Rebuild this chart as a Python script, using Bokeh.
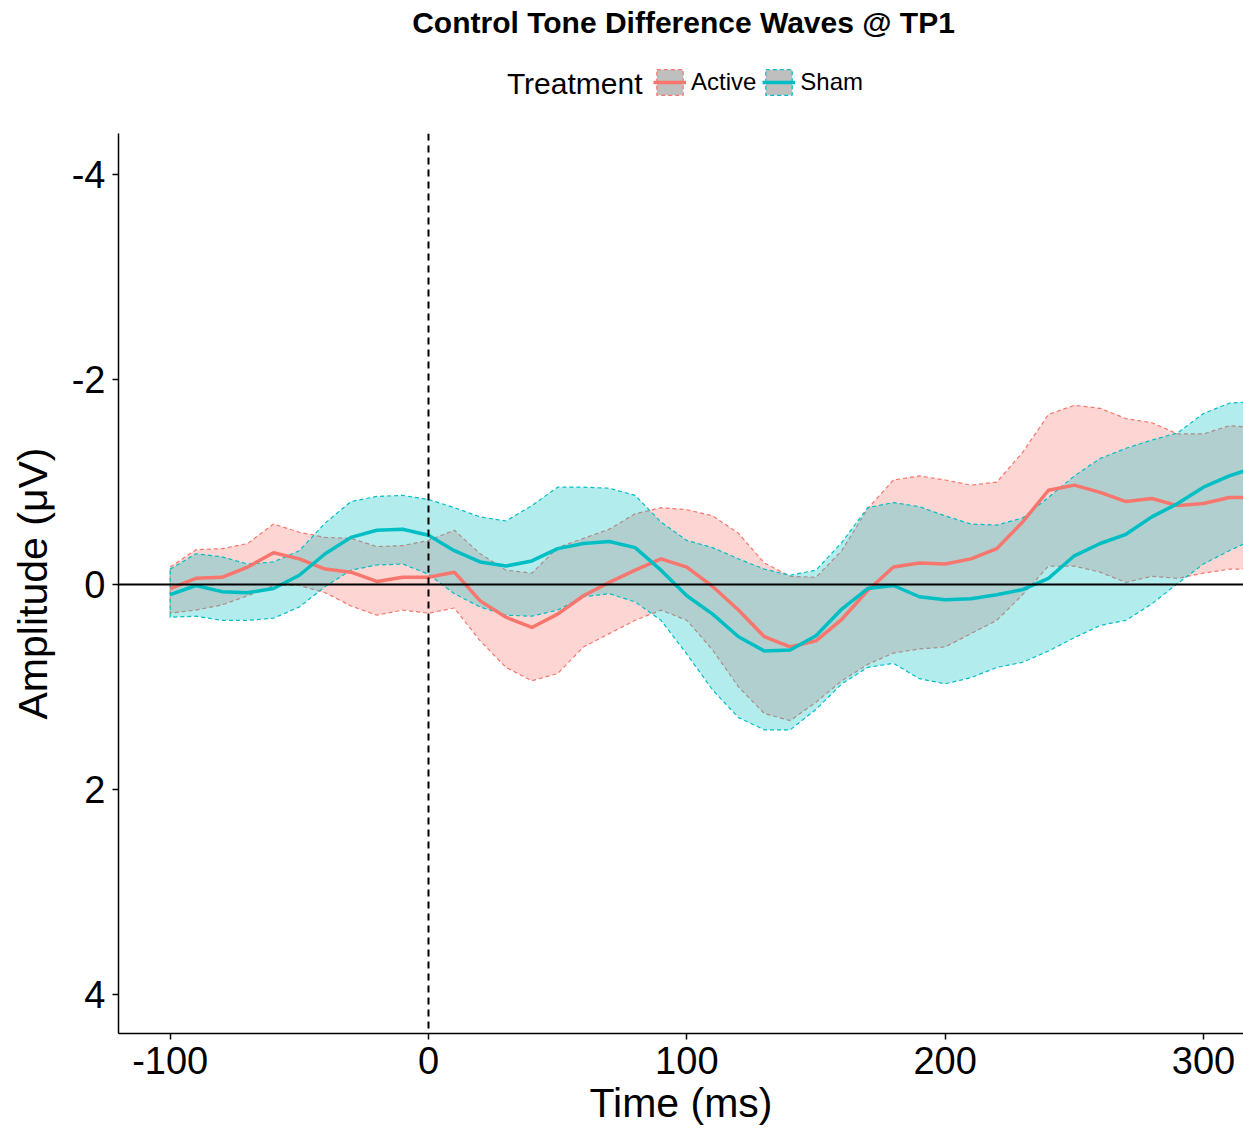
from bokeh.plotting import figure
from bokeh.models import Range1d, FixedTicker, Span, Label, Legend, LegendItem
from bokeh.layouts import column
from bokeh.embed import file_html
from bokeh.resources import INLINE

# ---- data ----
times = [-100, -90, -80, -70, -60, -50, -40, -30, -20, -10, 0, 10, 20, 30, 40, 50,
         60, 70, 80, 90, 100, 110, 120, 130, 140, 150, 160, 170, 180, 190, 200,
         210, 220, 230, 240, 250, 260, 270, 280, 290, 300, 310, 316]

active_mean = [0.04, -0.06, -0.07, -0.17, -0.31, -0.25, -0.15, -0.12, -0.03, -0.07,
               -0.07, -0.12, 0.16, 0.32, 0.42, 0.29, 0.11, -0.02, -0.14, -0.25,
               -0.17, 0.02, 0.25, 0.51, 0.61, 0.55, 0.34, 0.06, -0.17, -0.21,
               -0.20, -0.25, -0.35, -0.61, -0.92, -0.97, -0.90, -0.81, -0.84, -0.77,
               -0.79, -0.85, -0.85]
active_ci_neg = [-0.17, -0.34, -0.35, -0.40, -0.59, -0.51, -0.46, -0.45, -0.37, -0.38,
                 -0.43, -0.53, -0.30, -0.14, -0.11, -0.36, -0.45, -0.54, -0.69, -0.75,
                 -0.73, -0.67, -0.50, -0.21, -0.08, -0.07, -0.33, -0.74, -1.02, -1.06,
                 -1.02, -0.97, -1.00, -1.29, -1.66, -1.75, -1.72, -1.62, -1.58, -1.47,
                 -1.47, -1.55, -1.54]
active_ci_pos = [0.28, 0.25, 0.20, 0.11, 0.01, 0.01, 0.08, 0.21, 0.30, 0.25,
                 0.28, 0.23, 0.55, 0.81, 0.94, 0.87, 0.61, 0.48, 0.35, 0.25,
                 0.35, 0.64, 1.00, 1.26, 1.33, 1.15, 0.94, 0.78, 0.67, 0.63,
                 0.61, 0.48, 0.35, 0.10, -0.18, -0.18, -0.12, -0.02, -0.08, -0.06,
                 -0.11, -0.15, -0.15]

sham_mean = [0.10, 0.01, 0.07, 0.08, 0.04, -0.09, -0.30, -0.46, -0.53, -0.54,
             -0.48, -0.33, -0.22, -0.18, -0.23, -0.35, -0.40, -0.42, -0.36, -0.14,
             0.11, 0.29, 0.51, 0.65, 0.64, 0.50, 0.24, 0.04, 0.01, 0.12,
             0.15, 0.14, 0.10, 0.05, -0.06, -0.28, -0.40, -0.49, -0.66, -0.79,
             -0.95, -1.06, -1.11]
sham_ci_neg = [-0.15, -0.30, -0.27, -0.20, -0.22, -0.33, -0.60, -0.81, -0.86, -0.87,
               -0.83, -0.75, -0.66, -0.62, -0.77, -0.95, -0.95, -0.94, -0.87, -0.61,
               -0.43, -0.36, -0.25, -0.15, -0.09, -0.14, -0.41, -0.75, -0.80, -0.76,
               -0.67, -0.59, -0.58, -0.65, -0.85, -1.06, -1.23, -1.33, -1.41, -1.48,
               -1.67, -1.77, -1.78]
sham_ci_pos = [0.32, 0.31, 0.35, 0.35, 0.33, 0.22, 0.02, -0.14, -0.19, -0.20,
               -0.10, 0.09, 0.22, 0.30, 0.31, 0.25, 0.12, 0.09, 0.17, 0.35,
               0.68, 1.03, 1.30, 1.42, 1.42, 1.22, 0.97, 0.81, 0.77, 0.92,
               0.97, 0.91, 0.81, 0.76, 0.65, 0.52, 0.40, 0.35, 0.19, -0.01,
               -0.20, -0.33, -0.40]

groups = ["Active", "Sham"]
x_ticks = [-100, 0, 100, 200, 300]
y_ticks = [-4, -2, 0, 2, 4]

title_text = "Control Tone Difference Waves @ TP1"
legend_title = "Treatment"

RED = "#F8766D"
CYAN = "#00BFC4"
FONT = "Liberation Sans"

series = [
    (RED, active_mean, active_ci_neg, active_ci_pos),
    (CYAN, sham_mean, sham_ci_neg, sham_ci_pos),
]


def ribbon_xy(neg, pos):
    return list(times) + list(reversed(times)), list(neg) + list(reversed(pos))


# ---------- header (title + legend) ----------
# its ranges sit far away from the data, so the proxy renderers only feed the legend
head = figure(width=1243, height=133, output_backend="svg", toolbar_location=None,
              x_range=Range1d(1000, 1001), y_range=Range1d(1000, 1001),
              x_axis_type=None, y_axis_type=None, min_border=0)
head.outline_line_color = None
head.grid.visible = False

items = []
for name, (color, mean, neg, pos) in zip(groups, series):
    xs, ys = ribbon_xy(neg, pos)
    box = head.patch(x=xs, y=ys, fill_color="#bfbfbf", fill_alpha=1.0,
                     line_color=color, line_dash="4 3", line_width=1.2)
    ln = head.line(x=times, y=mean, line_color=color, line_width=3.5)
    items.append(LegendItem(label=name, renderers=[box, ln]))

legend = Legend(items=items, orientation="horizontal", location=(535, 35),
                glyph_width=33, glyph_height=32, label_text_font_size="24px",
                label_text_font=FONT, label_text_color="black", label_standoff=5,
                spacing=6, padding=0, margin=0, border_line_color=None,
                background_fill_alpha=0)
head.add_layout(legend)

head.add_layout(Label(x=565, y=111, x_units="screen", y_units="screen", text=title_text,
                      text_align="center", text_baseline="middle", text_font_size="30px",
                      text_font_style="bold", text_font=FONT, text_color="black"))
head.add_layout(Label(x=524, y=50, x_units="screen", y_units="screen", text=legend_title,
                      text_align="right", text_baseline="middle", text_font_size="30px",
                      text_font=FONT, text_color="black"))

# ---------- main plot ----------
p = figure(width=1243, height=998, output_backend="svg", toolbar_location=None,
           x_range=Range1d(-120, 315.5), y_range=Range1d(4.385, -4.404),
           min_border_left=118, min_border_right=0, min_border_top=0,
           min_border_bottom=98)
p.outline_line_color = None
p.grid.visible = False
p.background_fill_color = "white"
p.border_fill_color = "white"

# ribbons
for color, mean, neg, pos in series:
    xs, ys = ribbon_xy(neg, pos)
    p.patch(x=xs, y=ys, fill_color=color, fill_alpha=0.3, line_color=color,
            line_dash="4 3", line_width=1.2)

p.add_layout(Span(location=0, dimension="width", line_color="black", line_width=2))
p.add_layout(Span(location=0, dimension="height", line_color="black",
                  line_width=2, line_dash="7 5"))

# mean lines
for color, mean, neg, pos in series:
    p.line(x=times, y=mean, line_color=color, line_width=3.5, line_join="round")

# axes
p.xaxis.ticker = FixedTicker(ticks=x_ticks)
p.yaxis.ticker = FixedTicker(ticks=y_ticks)
p.yaxis.major_label_overrides = {t: str(t) for t in y_ticks}
p.xaxis.major_label_overrides = {t: str(t) for t in x_ticks}
p.xaxis.axis_label = "Time (ms)"
p.yaxis.axis_label = "Amplitude (μV)"
for ax in (p.xaxis, p.yaxis):
    ax.axis_line_color = "black"
    ax.axis_line_width = 1.5
    ax.major_tick_line_color = "black"
    ax.major_tick_line_width = 1.5
    ax.major_tick_out = 6
    ax.major_tick_in = 0
    ax.minor_tick_out = 0
    ax.minor_tick_in = 0
    ax.major_label_text_font = FONT
    ax.major_label_text_font_size = "38px"
    ax.major_label_text_color = "black"
    ax.axis_label_text_font = FONT
    ax.axis_label_text_font_size = "41px"
    ax.axis_label_text_font_style = "normal"
    ax.axis_label_text_color = "black"
p.xaxis.major_label_standoff = 7
p.xaxis.axis_label_standoff = 3
p.yaxis.major_label_standoff = 7
p.yaxis.axis_label_standoff = 13

layout = column(head, p, spacing=0)
open("out.html", "w").write(file_html(layout, INLINE))
